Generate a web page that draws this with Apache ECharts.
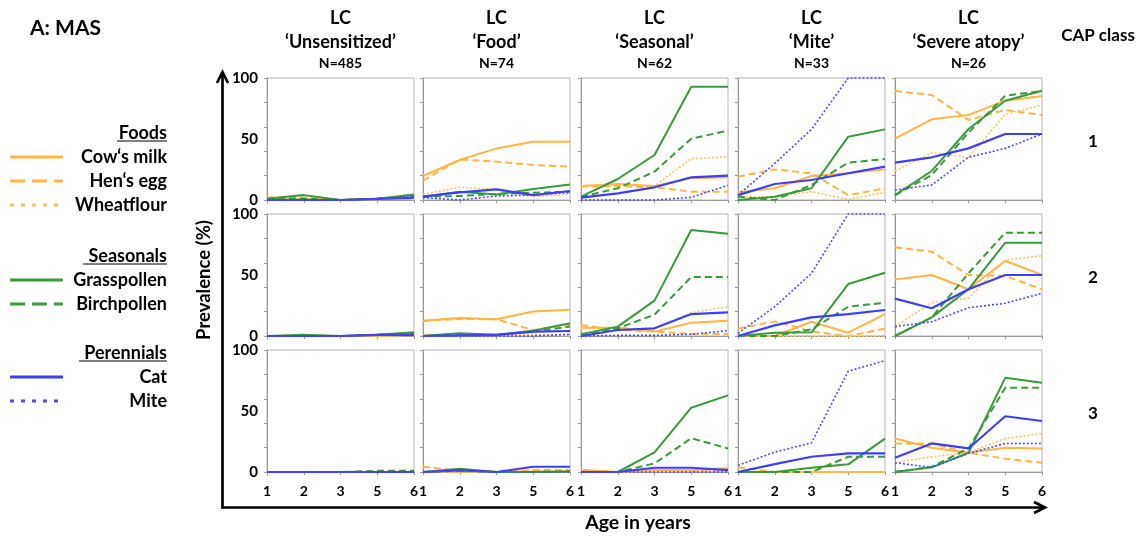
<!DOCTYPE html>
<html><head><meta charset="utf-8">
<script src="https://cdn.jsdelivr.net/npm/echarts@6/dist/echarts.min.js"></script>
<style>html,body{margin:0;padding:0;background:#fff}#c{width:1143px;height:538px}</style>
</head><body><div id="c"></div>
<script>
// ---- data ----
const ages = ['1', '2', '3', '5', '6'];
const classNames = ['‘Unsensitized’', '‘Food’', '‘Seasonal’', '‘Mite’', '‘Severe atopy’'];
const classSizes = ['N=485', 'N=74', 'N=62', 'N=33', 'N=26'];
const capClasses = ['1', '2', '3'];
const yTickLabels = [0, 50, 100];

// each array: [CAP class row][latent class column][age]
const cowsMilk = [
  [[1,1,0,1,1],[19.7,32.8,42.3,47.8,47.8],[11.5,13.1,11.5,17.8,18.6],[6.3,9.6,19.7,21.9,25.1],[50.3,66.1,69.7,81.4,85.2]],
  [[0,0,0,0,1],[12.6,14.8,13.7,20,21.6],[6.8,6.8,3.6,10.9,12.6],[0,0,11.7,2.7,18],[46.4,50,38.3,61.7,50]],
  [[0,0,0,0,0],[0,0.5,0,0.5,0.5],[1.6,0,1.6,1.6,3],[0,0,0,0,0],[27.4,19.8,15.8,19.8,19.3]]
];
const henEgg = [
  [[2,2,0,1,2],[15.8,33.3,31.4,28.7,27.3],[10.9,11.5,10.4,6.8,6.8],[19.1,25.1,21.9,4,9.6],[89.3,86.1,65.6,73.8,69.7]],
  [[0,0,0,0,1],[12.3,14,13.7,4.9,9],[9,4.9,3.6,1.6,1.6],[6,12,3.6,0,6],[72.7,69.1,50,49.2,38.3]],
  [[0,0,0,0,0],[4.3,1,0,1.6,1.6],[1.4,0,1.6,0.8,1],[3.8,0,0,0,0],[23.4,23.4,15.8,10.9,7.6]]
];
const wheatflour = [
  [[1,1,0,1,2],[4.6,10.4,8.7,2.7,4.6],[11.5,13.1,11.5,33.9,35.5],[2.7,2.7,6.8,0.5,6.3],[23.8,38.8,35,70.2,77.9]],
  [[0,0,0,0,0.5],[1,1.6,1,1.6,0],[6,6.3,6,19.1,24],[0,0,0,0,0],[7.7,27.3,30.9,62.3,65.8]],
  [[0,0,0,0,0],[0,0,0,0,0.5],[0.5,0,0.5,1,0.5],[0,0,0,0,0],[7.6,12.5,15.8,27.4,31.5]]
];
const grasspollen = [
  [[1,4,0,1,4.5],[2.7,6.8,4.6,9,12.8],[2.7,17.2,36.9,92.9,92.9],[0,2.7,9.6,51.9,57.9],[4,23.8,58.2,81.4,89.6]],
  [[0,1,0,1,3],[0,2.2,1,4.4,10.4],[1.4,7.7,29,86.9,83.9],[0,2.7,3,42.6,51.9],[0,15.3,38.3,76.5,76.5]],
  [[0,0,0,0,0],[0,2.7,0,0,0.5],[0,0,16,52.7,62.8],[0,0,3.5,6.3,27.4],[0,3.8,15.8,77.2,73.1]]
];
const birchpollen = [
  [[1,1,0,1,3],[2.7,3.3,5,6,6.8],[2.7,9.6,23.2,50.3,56.8],[2.7,0,12.3,30.6,33.6],[4,20.5,55.2,85.5,89.3]],
  [[0,0,0,1,2],[0,1.6,1,3.6,7.7],[0,6.3,17.5,48.4,48.4],[0,0,5.5,24,27.3],[0,15.3,51.4,84.7,84.7]],
  [[0,0,0,1,1],[0,1,0,0,0.5],[0,0,7,27.7,19.3],[0,0,0,12.5,12.5],[0,4.3,19.3,69,69]]
];
const cat = [
  [[0,0,0,1,2],[2.7,6.3,8.7,4,7.4],[2,5.5,10.4,18.6,20],[4,13.1,16.4,21.9,27.3],[30.6,35,42.3,54.1,54.1]],
  [[0,0,0,1,1],[0,0.5,1,3.6,4.1],[0,4.9,6.3,18,19.4],[0,8.7,15.3,18,21.3],[30.6,22.7,38.3,50,50]],
  [[0,0,0,0,0],[0,1.6,0,4.3,4.3],[0,0,3.5,3.5,1.6],[0,6.5,12.5,15.2,15.2],[11.7,23.4,19.3,45.7,41.8]]
];
const mite = [
  [[0,0,0,1,3],[2,0,3.3,4,6],[0,0,0,2.2,12],[4,30,57.9,100,100],[8.2,12.3,35,42.3,54.1]],
  [[0,0,0,1,2],[0,0,0,0,1.4],[0,0.5,0.5,1.4,4.4],[2.2,24,51.4,100,100],[7.7,11.7,23.2,26.8,35]],
  [[0,0,0,0,0],[0,1,0,0,0],[0,0,0,0,0],[5.4,16.3,23.9,82.6,91.3],[7.6,3.8,15.2,23.4,23.4]]
];

// ---- styles ----
const ORANGE = '#FFB53F', GREEN = '#3A9A3A', BLUE = '#3D3DFF';
const FONT = 'Lato';
const allergens = [
  {name: 'Cow‘s milk',  data: cowsMilk,    color: ORANGE, type: 'solid',  width: 2,   key: null},
  {name: 'Hen‘s egg',   data: henEgg,      color: ORANGE, type: [7, 4],   width: 2,   key: [15, 7]},
  {name: 'Wheatflour',  data: wheatflour,  color: '#FFC25A', type: [2, 2], width: 1.6, key: [4, 7]},
  {name: 'Grasspollen', data: grasspollen, color: GREEN,  type: 'solid',  width: 2,   key: null},
  {name: 'Birchpollen', data: birchpollen, color: GREEN,  type: [7, 4],   width: 2,   key: [15, 7]},
  {name: 'Cat',         data: cat,         color: BLUE,   type: 'solid',  width: 2.2, key: null},
  {name: 'Mite',        data: mite,        color: '#4B4BFF', type: [2, 2], width: 1.6, key: [4, 7]}
];

const colLeft = [267, 423, 581, 738, 895];
const colWidth = 147;
const rowTop = [78, 214, 350];
const rowHeight = 122;

const grids = [], xAxes = [], yAxes = [], series = [];
for (let r = 0; r < 3; r++) {
  for (let c = 0; c < 5; c++) {
    const g = r * 5 + c;
    grids.push({left: colLeft[c], top: rowTop[r], width: colWidth, height: rowHeight,
      show: true, borderColor: '#b4b4b4', borderWidth: 1, backgroundColor: 'transparent'});
    xAxes.push({type: 'category', gridIndex: g, data: ages, boundaryGap: false,
      axisLine: {lineStyle: {color: '#9a9a9a'}},
      axisTick: {show: true, length: 3, lineStyle: {color: '#9a9a9a'}},
      axisLabel: {show: r === 2, color: '#000', fontWeight: 'bold', fontSize: 14, fontFamily: FONT, margin: 12},
      splitLine: {show: false}});
    yAxes.push({type: 'value', gridIndex: g, min: 0, max: 100, interval: 20, position: 'left',
      axisLine: {show: true, lineStyle: {color: '#9a9a9a'}},
      axisTick: {show: true, length: 3, lineStyle: {color: '#9a9a9a'}},
      axisLabel: {show: false}, splitLine: {show: false}});
    yAxes.push({type: 'value', gridIndex: g, min: 0, max: 100, interval: 50, position: 'left',
      axisLine: {show: false}, axisTick: {show: false},
      axisLabel: {show: c === 0, color: '#000', fontWeight: 'bold', fontSize: 15, fontFamily: FONT, margin: 9,
        formatter: v => yTickLabels.indexOf(v) >= 0 ? String(v) : ''},
      splitLine: {show: false}});
    allergens.forEach(a => {
      series.push({type: 'line', name: a.name, xAxisIndex: g, yAxisIndex: g * 2,
        data: a.data[r][c], symbol: 'none', clip: false, silent: true, animation: false,
        lineStyle: {color: a.color, width: a.width, type: a.type}});
    });
  }
}

// ---- decorations (text, arrows, legend keys) ----
const graphic = [];
const txt = (text, x, y, size, align, extra) => Object.assign({type: 'text', x: x, y: y,
  style: {text: text, fill: '#000', fontFamily: FONT, fontWeight: 'bold', fontSize: size,
    align: align || 'center', verticalAlign: 'middle'}}, extra || {});

graphic.push(txt('A: MAS', 30, 28, 21, 'left'));
for (let c = 0; c < 5; c++) {
  const cx = colLeft[c] + colWidth / 2;
  graphic.push(txt('LC', cx, 18, 18));
  graphic.push(txt(classNames[c], cx, 42, 18));
  graphic.push(txt(classSizes[c], cx, 63, 14));
}
graphic.push(txt('CAP class', 1098, 36, 17));
capClasses.forEach((k, r) => graphic.push(txt(k, 1093, rowTop[r] + 64, 17)));
graphic.push(txt('Prevalence (%)', 204, 280, 18.5, 'center', {rotation: Math.PI / 2}));
graphic.push(txt('Age in years', 638, 523, 19.5));

// axes arrows
const AX = 222.5, AY = 507.5;
graphic.push({type: 'line', shape: {x1: AX, y1: AY + 1.3, x2: AX, y2: 73}, style: {stroke: '#000', lineWidth: 2.7}});
graphic.push({type: 'polyline', shape: {points: [[AX - 5.5, 83], [AX, 72], [AX + 5.5, 83]]},
  style: {stroke: '#000', lineWidth: 2.7, fill: null}});
graphic.push({type: 'line', shape: {x1: AX - 1.3, y1: AY, x2: 1044, y2: AY}, style: {stroke: '#000', lineWidth: 2.7}});
graphic.push({type: 'polyline', shape: {points: [[1034, AY - 5.5], [1045, AY], [1034, AY + 5.5]]},
  style: {stroke: '#000', lineWidth: 2.7, fill: null}});

// legend
const legendGroups = [
  {title: 'Foods', y: 133, ul: 50, items: [0, 1, 2]},
  {title: 'Seasonals', y: 256, ul: 84, items: [3, 4]},
  {title: 'Perennials', y: 353, ul: 88, items: [5, 6]}
];
legendGroups.forEach(gp => {
  graphic.push(txt(gp.title, 167, gp.y, 18, 'right'));
  graphic.push({type: 'line', shape: {x1: 167 - gp.ul, y1: gp.y + 8, x2: 167, y2: gp.y + 8},
    style: {stroke: '#000', lineWidth: 1.2}});
  gp.items.forEach((i, k) => {
    const a = allergens[i];
    const y = gp.y + 24 * (k + 1);
    graphic.push(txt(a.name, 167, y, 18, 'right'));
    graphic.push({type: 'line', shape: {x1: 10, y1: y, x2: 63, y2: y},
      style: {stroke: a.color, lineWidth: 3, lineDash: a.key}});
  });
});

const chart = echarts.init(document.getElementById('c'), null, {renderer: 'canvas'});
chart.setOption({animation: false, backgroundColor: '#fff',
  grid: grids, xAxis: xAxes, yAxis: yAxes, series: series, graphic: graphic});
</script></body></html>
